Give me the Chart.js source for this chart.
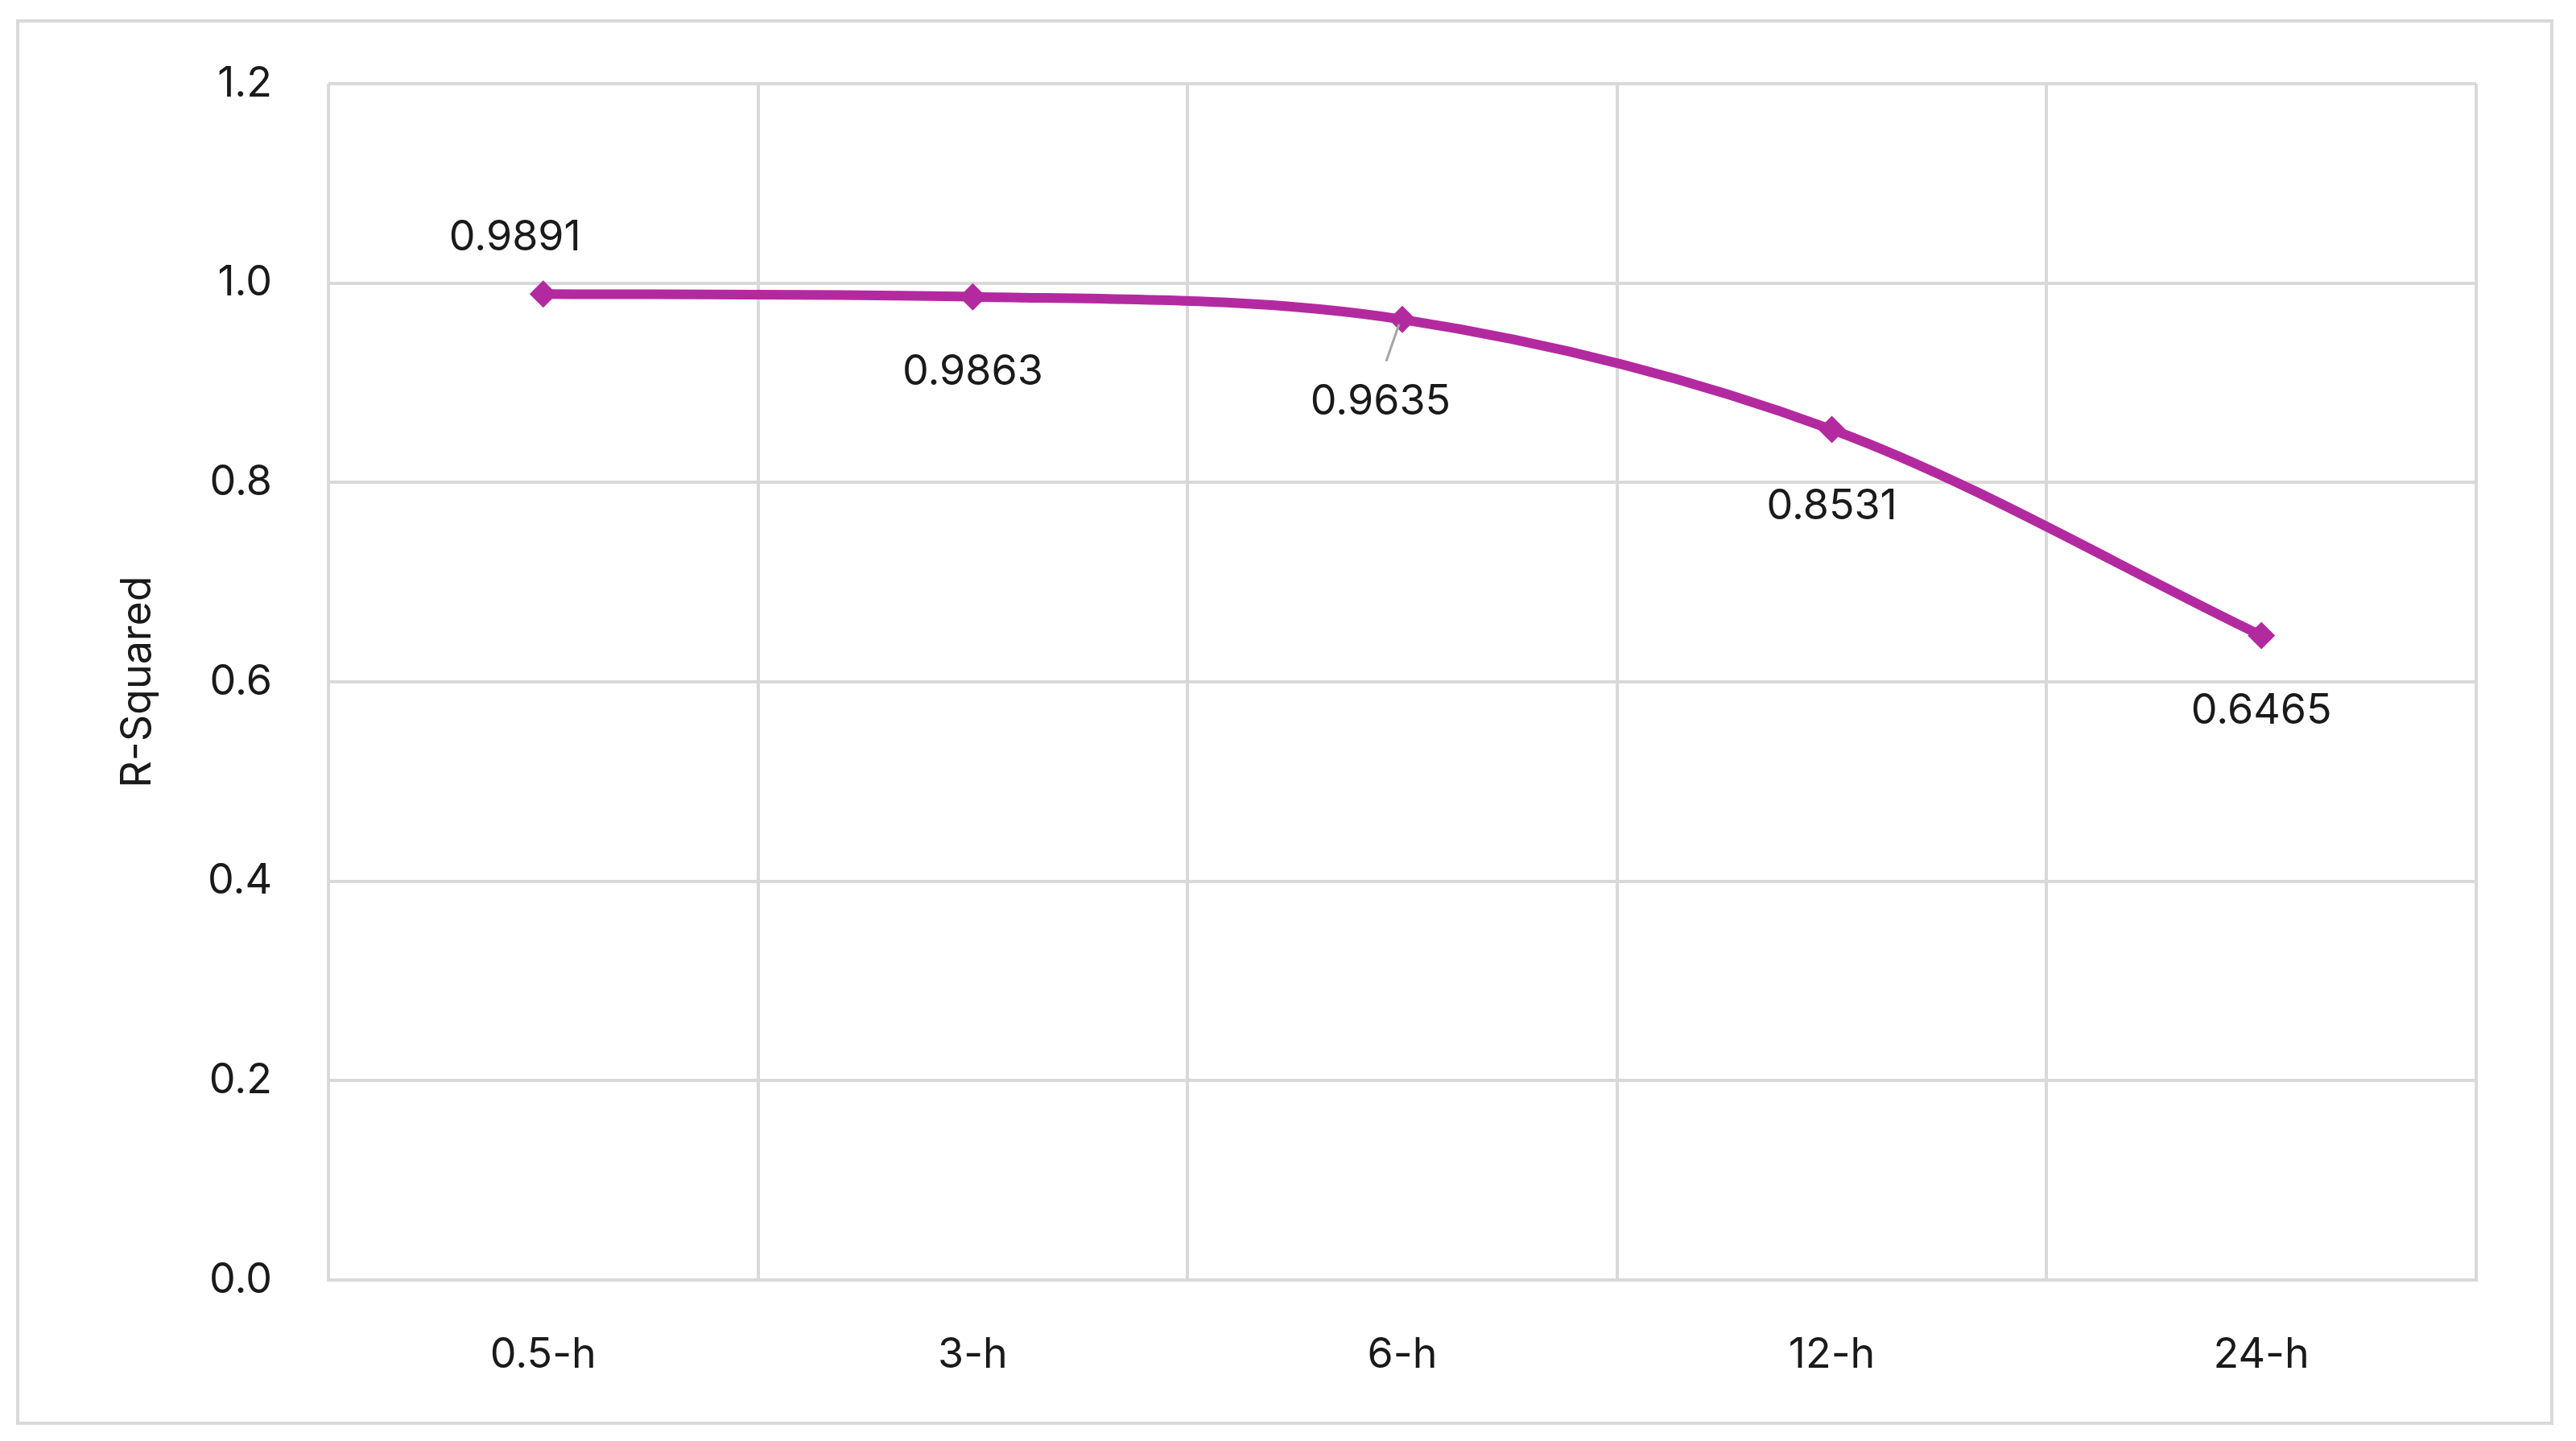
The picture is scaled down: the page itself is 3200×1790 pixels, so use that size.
<!DOCTYPE html>
<html><head><meta charset="utf-8">
<script src="https://cdn.jsdelivr.net/npm/chart.js@4"></script>
<style>html,body{margin:0;padding:0;background:#fff}canvas{display:block}</style>
</head><body>
<canvas id="c" width="3200" height="1790" style="width:3200px;height:1790px"></canvas>
<script>
const categories = ['0.5-h','3-h','6-h','12-h','24-h'];
const rSquared = [0.9891, 0.9863, 0.9635, 0.8531, 0.6465];
const yTicks = [0,0.2,0.4,0.6,0.8,1.0,1.2];
const labelOffsets = [[-35,-70],[0,94],[-27,102],[0,96],[0,94]];
const FONT = 'Inter, "Liberation Sans", sans-serif';
const color = '#B32AA0';

const labelsPlugin = {
  id:'lbl',
  beforeDraw(chart){
    const c=chart.ctx; c.save(); c.fillStyle='#fff'; c.fillRect(0,0,3200,1790);
    c.strokeStyle='#d9d9d9'; c.lineWidth=4; c.strokeRect(22,26,3148,1742); c.restore();
  },
  afterDatasetsDraw(chart){
    const c=chart.ctx, meta=chart.getDatasetMeta(0);
    c.save(); c.font='52px '+FONT; c.fillStyle='#1a1a1a'; c.textAlign='center'; c.textBaseline='middle';
    meta.data.forEach((p,i)=>{
      const [dx,dy]=labelOffsets[i];
      c.fillText(rSquared[i].toFixed(4), p.x+dx, p.y+dy);
      if(i===2){ c.strokeStyle='#a6a6a6'; c.lineWidth=3; c.beginPath(); c.moveTo(p.x-20,p.y+52); c.lineTo(p.x-4,p.y+6); c.stroke(); }
    });
    c.restore();
  }
};

new Chart(document.getElementById('c'),{
  type:'line',
  data:{labels:categories,datasets:[{data:rSquared,borderColor:color,backgroundColor:color,borderWidth:12,
    tension:0.4,cubicInterpolationMode:'monotone',pointStyle:'rectRot',pointRadius:17,pointBorderWidth:0}]},
  options:{responsive:false,animation:false,devicePixelRatio:1,
    layout:{padding:{left:140,top:104,right:124,bottom:0}},
    plugins:{legend:{display:false},tooltip:{enabled:false}},
    scales:{
      x:{offset:true,grid:{offset:true,color:'#d9d9d9',lineWidth:4,drawTicks:false},border:{color:'#d9d9d9',width:4},
        ticks:{padding:62,color:'#1a1a1a',font:{size:52,family:FONT}},
        afterFit(s){s.height=200;}},
      y:{min:0,max:1.2,afterBuildTicks(s){s.ticks=yTicks.map(v=>({value:v}));},
        grid:{color:'#d9d9d9',lineWidth:4,drawTicks:false},border:{display:false},
        ticks:{padding:70,color:'#1a1a1a',font:{size:52,family:FONT},callback:v=>v.toFixed(1)},
        title:{display:true,text:'R-Squared',color:'#1a1a1a',font:{size:52,family:FONT},padding:0},
        afterFit(s){s.width=268;}}
    }}
  ,plugins:[labelsPlugin]
});
</script>
</body></html>
